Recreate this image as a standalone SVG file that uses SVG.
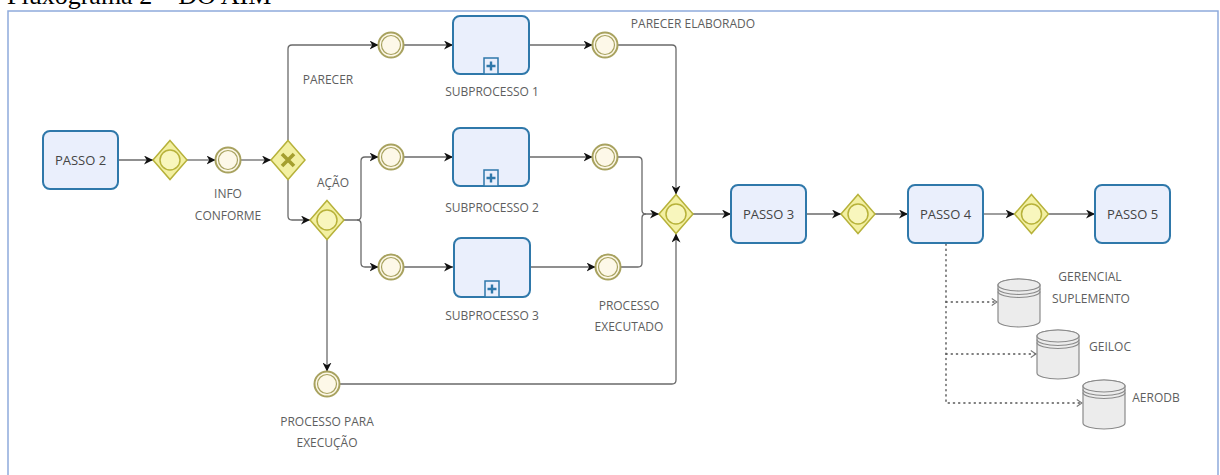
<svg xmlns="http://www.w3.org/2000/svg" width="1220" height="475" viewBox="0 0 1220 475">
<defs>
<style>
.lbl{font-family:"Open Sans","Noto Sans",sans-serif;font-size:12px;fill:#5e5e5e;text-anchor:middle}
.tt{font-family:"Open Sans","Noto Sans",sans-serif;font-size:13px;fill:#444;text-anchor:middle}
.task{fill:#eaeffc;stroke:#2f78aa;stroke-width:2}
.gw{fill:#f3f0a2;stroke:#b7b23a;stroke-width:1.5}
.gwc{fill:#f8f6bd;stroke:#b7b23a;stroke-width:1.5}
.evo{fill:#fdf8e8;stroke:#a8a25f;stroke-width:2}
.evi{fill:none;stroke:#a8a25f;stroke-width:1.2}
.flow{fill:none;stroke:#6a6a6a;stroke-width:1.3}
.dot{fill:none;stroke:#555;stroke-width:1.4;stroke-dasharray:1.2 4;stroke-linecap:round}
.db{fill:#ececec;stroke:#8a8a8a;stroke-width:1.2}
</style>
<marker id="arr" viewBox="0 0 10 10" refX="10" refY="5" markerWidth="9" markerHeight="9" markerUnits="userSpaceOnUse" orient="auto">
<path d="M0,0 L10,5 L0,10 L3,5 z" fill="#111"/>
</marker>
<marker id="oarr" viewBox="0 0 8 10" refX="7" refY="5" markerWidth="7" markerHeight="9" markerUnits="userSpaceOnUse" orient="auto">
<path d="M1,1 L7,5 L1,9" fill="none" stroke="#777" stroke-width="1.2"/>
</marker>
<g id="plus">
<rect x="-7" y="-16" width="14" height="16" fill="#eaeffc" stroke="#2f78aa" stroke-width="1.5"/>
<path d="M0,-12.5 V-3.5 M-4.5,-8 H4.5" stroke="#2f78aa" stroke-width="2.4"/>
</g>
</defs>
<rect width="1220" height="475" fill="#ffffff"/>
<text x="7" y="4" font-family="'Liberation Serif',serif" font-size="26" fill="#000">Fluxograma 2 – DO AIM</text>
<rect x="8" y="11" width="1210" height="475" fill="none" stroke="#8eaadb" stroke-width="1.5"/>

<g id="connectors">
<path class="flow" d="M118,160 H153" marker-end="url(#arr)"/>
<path class="flow" d="M187,160 H215.5" marker-end="url(#arr)"/>
<path class="flow" d="M241,160 H271" marker-end="url(#arr)"/>
<path class="flow" d="M288,140.5 V49 Q288,45 292,45 H378.5" marker-end="url(#arr)"/>
<path class="flow" d="M288,179.5 V216 Q288,220 292,220 H310" marker-end="url(#arr)"/>
<path class="flow" d="M344,220 H357 Q361,220 361,216 V161 Q361,157 365,157 H378.5" marker-end="url(#arr)"/>
<path class="flow" d="M357,220 Q361,220 361,224 V263 Q361,267 365,267 H378.5" marker-end="url(#arr)"/>
<path class="flow" d="M327,239.5 V371.5" marker-end="url(#arr)"/>
<path class="flow" d="M403.5,45 H453" marker-end="url(#arr)"/>
<path class="flow" d="M403.5,157 H453" marker-end="url(#arr)"/>
<path class="flow" d="M403.5,267 H453" marker-end="url(#arr)"/>
<path class="flow" d="M529,45 H592.5" marker-end="url(#arr)"/>
<path class="flow" d="M529,157 H592.5" marker-end="url(#arr)"/>
<path class="flow" d="M529,267 H595.5" marker-end="url(#arr)"/>
<path class="flow" d="M617.5,45 H672 Q676,45 676,49 V194.5" marker-end="url(#arr)"/>
<path class="flow" d="M339.5,384 H672 Q676,384 676,380 V233.5" marker-end="url(#arr)"/>
<path class="flow" d="M617.5,157 H638 Q642,157 642,161 V210 Q642,214 646,214"/>
<path class="flow" d="M620.5,267 H638 Q642,267 642,263 V218 Q642,214 646,214 H659" marker-end="url(#arr)"/>
<path class="flow" d="M693,214 H731" marker-end="url(#arr)"/>
<path class="flow" d="M806,214 H841" marker-end="url(#arr)"/>
<path class="flow" d="M875,214 H908" marker-end="url(#arr)"/>
<path class="flow" d="M983,214 H1014.5" marker-end="url(#arr)"/>
<path class="flow" d="M1048.5,214 H1095" marker-end="url(#arr)"/>
<path class="dot" d="M946,244 V403 H1082" marker-end="url(#oarr)"/>
<path class="dot" d="M946,302 H997" marker-end="url(#oarr)"/>
<path class="dot" d="M946,354 H1036" marker-end="url(#oarr)"/>
</g>

<g id="passo2">
<rect class="task" x="43" y="131" width="75" height="58" rx="7"/>
<text class="tt" x="80.5" y="164.5">PASSO 2</text>
</g>
<g id="gateway1">
<path class="gw" d="M170,140.5 L187,160 L170,179.5 L153,160 Z"/>
<circle class="gwc" cx="170" cy="160" r="10"/>
</g>
<g id="info-conforme">
<circle class="evo" cx="228" cy="160" r="12.5"/>
<circle class="evi" cx="228" cy="160" r="9.5"/>
<text class="lbl" x="228" y="198">INFO</text>
<text class="lbl" x="228" y="220">CONFORME</text>
</g>
<g id="xor">
<path class="gw" d="M288,140.5 L305,160 L288,179.5 L271,160 Z"/>
<path d="M282,154 L294,166 M294,154 L282,166" stroke="#a59f2e" stroke-width="3.6"/>
<text class="lbl" x="328" y="84">PARECER</text>
</g>
<g id="gateway2">
<path class="gw" d="M327,200.5 L344,220 L327,239.5 L310,220 Z"/>
<circle class="gwc" cx="327" cy="220" r="10"/>
<text class="lbl" x="333" y="187">AÇÃO</text>
</g>
<g id="ev-parecer">
<circle class="evo" cx="391" cy="45" r="12.5"/>
<circle class="evi" cx="391" cy="45" r="9.5"/>
</g>
<g id="ev-acao1">
<circle class="evo" cx="391" cy="157" r="12.5"/>
<circle class="evi" cx="391" cy="157" r="9.5"/>
</g>
<g id="ev-acao2">
<circle class="evo" cx="391" cy="267" r="12.5"/>
<circle class="evi" cx="391" cy="267" r="9.5"/>
</g>
<g id="subprocesso1">
<rect class="task" x="453" y="16" width="76" height="58" rx="7"/>
<use href="#plus" x="491" y="74"/>
<text class="lbl" x="492" y="96">SUBPROCESSO 1</text>
</g>
<g id="subprocesso2">
<rect class="task" x="453" y="128" width="76" height="58" rx="7"/>
<use href="#plus" x="491" y="186"/>
<text class="lbl" x="492" y="212">SUBPROCESSO 2</text>
</g>
<g id="subprocesso3">
<rect class="task" x="454" y="238" width="76" height="59" rx="7"/>
<use href="#plus" x="492" y="297"/>
<text class="lbl" x="492" y="320">SUBPROCESSO 3</text>
</g>
<g id="parecer-elaborado">
<circle class="evo" cx="605" cy="45" r="12.5"/>
<circle class="evi" cx="605" cy="45" r="9.5"/>
<text class="lbl" x="693" y="28">PARECER ELABORADO</text>
</g>
<g id="ev-sp2">
<circle class="evo" cx="605" cy="157" r="12.5"/>
<circle class="evi" cx="605" cy="157" r="9.5"/>
</g>
<g id="processo-executado">
<circle class="evo" cx="608" cy="267" r="12.5"/>
<circle class="evi" cx="608" cy="267" r="9.5"/>
<text class="lbl" x="629" y="310">PROCESSO</text>
<text class="lbl" x="629" y="331">EXECUTADO</text>
</g>
<g id="processo-para-execucao">
<circle class="evo" cx="327" cy="384" r="12.5"/>
<circle class="evi" cx="327" cy="384" r="9.5"/>
<text class="lbl" x="327" y="426">PROCESSO PARA</text>
<text class="lbl" x="327" y="447">EXECUÇÃO</text>
</g>
<g id="gateway-merge">
<path class="gw" d="M676,194.5 L693,214 L676,233.5 L659,214 Z"/>
<circle class="gwc" cx="676" cy="214" r="10"/>
</g>
<g id="passo3">
<rect class="task" x="731" y="185" width="75" height="58" rx="7"/>
<text class="tt" x="768.5" y="218.5">PASSO 3</text>
</g>
<g id="gateway3">
<path class="gw" d="M858,194.5 L875,214 L858,233.5 L841,214 Z"/>
<circle class="gwc" cx="858" cy="214" r="10"/>
</g>
<g id="passo4">
<rect class="task" x="908" y="185" width="75" height="58" rx="7"/>
<text class="tt" x="945.5" y="218.5">PASSO 4</text>
</g>
<g id="gateway4">
<path class="gw" d="M1031.5,194.5 L1048.5,214 L1031.5,233.5 L1014.5,214 Z"/>
<circle class="gwc" cx="1031.5" cy="214" r="10"/>
</g>
<g id="passo5">
<rect class="task" x="1095" y="185" width="75" height="58" rx="7"/>
<text class="tt" x="1132.5" y="218.5">PASSO 5</text>
</g>
<g id="gerencial-suplemento">
<path class="db" d="M998,285 V321 A21,6 0 0 0 1040,321 V285 A21,6 0 0 0 998,285 Z"/>
<ellipse class="db" cx="1019" cy="285" rx="21" ry="6"/>
<path class="db" d="M998,288.5 A21,6 0 0 0 1040,288.5 M998,291.5 A21,6 0 0 0 1040,291.5" style="fill:none"/>
<text class="lbl" x="1090" y="281">GERENCIAL</text>
<text class="lbl" x="1091" y="303">SUPLEMENTO</text>
</g>
<g id="geiloc">
<path class="db" d="M1037,336 V373 A21,6 0 0 0 1079,373 V336 A21,6 0 0 0 1037,336 Z"/>
<ellipse class="db" cx="1058" cy="336" rx="21" ry="6"/>
<path class="db" d="M1037,339.5 A21,6 0 0 0 1079,339.5 M1037,342.5 A21,6 0 0 0 1079,342.5" style="fill:none"/>
<text class="lbl" x="1110" y="351">GEILOC</text>
</g>
<g id="aerodb">
<path class="db" d="M1083,386 V423 A21,6 0 0 0 1125,423 V386 A21,6 0 0 0 1083,386 Z"/>
<ellipse class="db" cx="1104" cy="386" rx="21" ry="6"/>
<path class="db" d="M1083,389.5 A21,6 0 0 0 1125,389.5 M1083,392.5 A21,6 0 0 0 1125,392.5" style="fill:none"/>
<text class="lbl" x="1156" y="402">AERODB</text>
</g>
</svg>
